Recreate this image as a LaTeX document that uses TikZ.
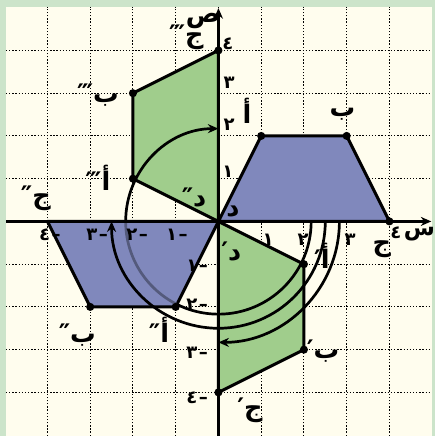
\documentclass[tikz,border=0pt]{standalone}
\usepackage{fontspec}
\usepackage{tikz}
\usetikzlibrary{arrows.meta}
\newfontfamily\arabicfont[Script=Arabic]{DejaVu Sans}
\TeXXeTstate=1
\definecolor{framegreen}{RGB}{204,228,202}
\definecolor{paper}{RGB}{255,253,238}
\definecolor{trapblue}{RGB}{128,136,188}
\definecolor{trapgreen}{RGB}{160,205,140}
\definecolor{arcgrey}{RGB}{84,90,124}
\newcommand{\rtl}[1]{\beginR #1\endR}
\newcommand{\negnum}[1]{#1\kern1pt\hbox{–}}
\tikzset{
  gridline/.style={line width=0.7pt,dash pattern=on 0.9pt off 1.2pt},
  figedge/.style={draw=black,line width=2pt,line join=round},
  rotarc/.style={line width=1.8pt},
  axisline/.style={line width=2.2pt},
  ptlbl/.style={inner sep=0pt,font=\arabicfont\bfseries\fontsize{17}{20}\selectfont},
  ticklbl/.style={inner sep=0pt,font=\arabicfont\bfseries\fontsize{12}{14}\selectfont},
}

\begin{document}
\begin{tikzpicture}[x=1cm,y=1cm,>={Stealth[length=7pt,width=6pt]}]
  \useasboundingbox (-5.11,-5.02) rectangle (5.064,5.18);
  \fill[framegreen] (-5.11,-5.02) rectangle (5.064,5.18);
  \fill[paper] (-4.97,-5.02) rectangle (4.99,5.02);
  \foreach \k in {-4,...,4} {
    \draw[gridline] (\k,-5.02)--(\k,5.02);
    \draw[gridline] (-4.97,\k)--(4.99,\k);
  }

  % the four trapezoids
  \coordinate (d) at (0,0);
  \coordinate (a) at (1,2);
  \coordinate (b) at (3,2);
  \coordinate (c) at (4,0);
  \coordinate (a1) at (2,-1);
  \coordinate (b1) at (2,-3);
  \coordinate (c1) at (0,-4);
  \coordinate (a2) at (-1,-2);
  \coordinate (b2) at (-3,-2);
  \coordinate (c2) at (-4,0);
  \coordinate (a3) at (-2,1);
  \coordinate (b3) at (-2,3);
  \coordinate (c3) at (0,4);

  \fill[red] (d) circle (3pt);
  \filldraw[figedge,fill=trapblue] (d)--(a)--(b)--(c)--cycle;
  \filldraw[figedge,fill=trapgreen] (d)--(a1)--(b1)--(c1)--cycle;
  \filldraw[figedge,fill=trapblue] (d)--(a2)--(b2)--(c2)--cycle;
  \filldraw[figedge,fill=trapgreen] (d)--(a3)--(b3)--(c3)--cycle;

  % rotation arcs
  \draw[rotarc,->] (2.83,0) arc[start angle=0,end angle=-90,radius=2.83];
  \draw[rotarc,->] (2.5,0) arc[start angle=0,end angle=-180,radius=2.5];
  \draw[rotarc] (2.17,0) arc[start angle=0,end angle=-117,radius=2.17];
  \draw[rotarc,arcgrey] (-117:2.17) arc[start angle=-117,end angle=-180,radius=2.17];
  \draw[rotarc,->] (-2.17,0) arc[start angle=180,end angle=90,radius=2.17];

  % axes
  \draw[axisline,->] (-4.97,0)--(4.98,0);
  \draw[axisline,->] (0,-5.02)--(0,4.99);

  \foreach \p in {a,b,c,a1,b1,c1,a2,b2,a3,b3,c3}
    \fill (\p) circle (2.7pt);

  % point labels
  \node[ptlbl] (la) at (0.67,2.58) {\rtl{أ}};
  \node[ptlbl] (lb) at (2.9,2.51) {\rtl{ب}};
  \node[ptlbl] (lc) at (3.82,-0.66) {\rtl{ج}};
  \node[ptlbl] (ld) at (0.34,0.22) {\rtl{د}};
  \node[ptlbl] (la1) at (2.42,-0.8) {\rtl{أ′}};
  \node[ptlbl] (lb1) at (2.45,-3.03) {\rtl{ب′}};
  \node[ptlbl] (lc1) at (0.74,-4.41) {\rtl{ج′}};
  \node[ptlbl] (ld1) at (0.3,-0.7) {\rtl{د′}};
  \node[ptlbl] (la2) at (-1.39,-2.54) {\rtl{أ″}};
  \node[ptlbl] (lb2) at (-3.3,-2.65) {\rtl{ب″}};
  \node[ptlbl] (lc2) at (-4.27,0.55) {\rtl{ج″}};
  \node[ptlbl] (ld2) at (-0.57,0.57) {\rtl{د″}};
  \node[ptlbl] (la3) at (-2.82,1.02) {\rtl{أ‴}};
  \node[ptlbl] (lb3) at (-2.82,2.96) {\rtl{ب‴}};
  \node[ptlbl] (lc3) at (-0.75,4.3) {\rtl{ج‴}};
  \node[ptlbl] (ly) at (-0.36,4.7) {\rtl{ص}};
  \node[ptlbl,font=\arabicfont\bfseries\fontsize{15}{18}\selectfont]
    (lx) at (4.7,-0.3) {\rtl{س}};

  % axis numbers
  \node[ticklbl] (y1) at (0.22,1.16) {١};
  \node[ticklbl] (y2) at (0.25,2.25) {٢};
  \node[ticklbl] (y3) at (0.25,3.24) {٣};
  \node[ticklbl] (y4) at (0.22,4.15) {٤};
  \node[ticklbl] (x1) at (1.16,-0.43) {١};
  \node[ticklbl] (x2) at (1.98,-0.43) {٢};
  \node[ticklbl] (x3) at (3.08,-0.43) {٣};
  \node[ticklbl] (x4) at (4.15,-0.26) {٤};
  \node[ticklbl] (xm1) at (-0.97,-0.32) {\negnum{١}};
  \node[ticklbl] (xm2) at (-1.9,-0.32) {\negnum{٢}};
  \node[ticklbl] (xm3) at (-2.84,-0.32) {\negnum{٣}};
  \node[ticklbl] (xm4) at (-3.94,-0.32) {\negnum{٤}};
  \node[ticklbl] (ym1) at (-0.5,-1.04) {\negnum{١}};
  \node[ticklbl] (ym2) at (-0.5,-1.95) {\negnum{٢}};
  \node[ticklbl] (ym3) at (-0.5,-3.08) {\negnum{٣}};
  \node[ticklbl] (ym4) at (-0.5,-4.13) {\negnum{٤}};
\end{tikzpicture}
\end{document}
